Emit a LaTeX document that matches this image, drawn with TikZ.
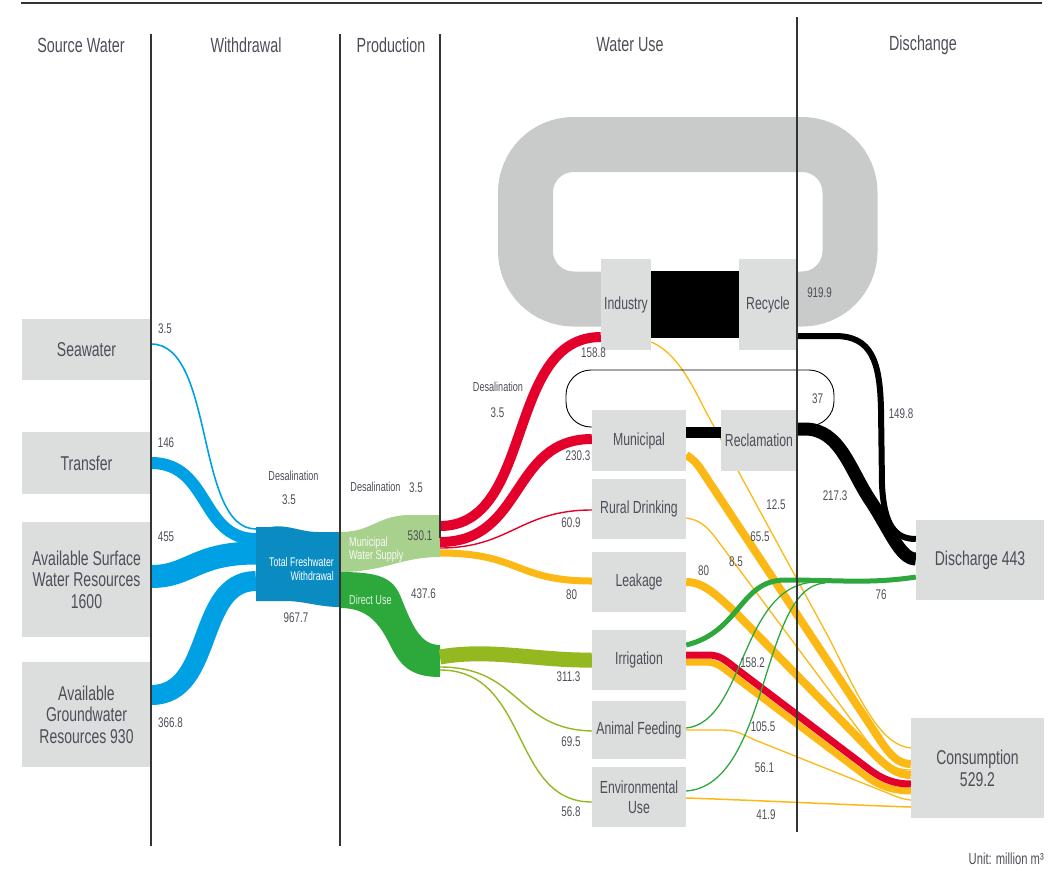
\documentclass[tikz,border=0pt]{standalone}
\usepackage{fontspec}
\setmainfont{Liberation Sans}[FakeStretch=0.7]
\usetikzlibrary{calc}
\definecolor{boxgray}{HTML}{DCDDDD}
\definecolor{loopgray}{HTML}{C9CACA}
\definecolor{txt}{HTML}{4E4E58}
\definecolor{fblue}{HTML}{00A0E4}
\definecolor{tblue}{HTML}{0A8CC3}
\definecolor{lgreen}{HTML}{A9D18E}
\definecolor{dgreen}{HTML}{2DA83B}
\definecolor{olive}{HTML}{93B820}
\definecolor{fred}{HTML}{E3002B}
\definecolor{fyel}{HTML}{FCB814}
\definecolor{fgreen}{HTML}{2EA83C}
\definecolor{rulec}{HTML}{333333}
\newcommand\myfs[2]{\fontsize{#1}{#2}\selectfont}
\pgfdeclarelayer{back}
\pgfdeclarelayer{flows}
\pgfsetlayers{back,flows,main}
\begin{document}
\begin{tikzpicture}[x=1pt,y=-1pt,
  box/.style={fill=boxgray, inner sep=0pt, align=center, text=txt, font=\myfs{17.5}{20}},
  srcbox/.style={box, minimum width=129pt, font=\myfs{20}{21.5}},
  endbox/.style={box, font=\myfs{20}{22}},
  usebox/.style={box, minimum width=94pt},
  hdr/.style={text=txt, font=\myfs{20.5}{22}, inner sep=0pt},
  num/.style={text=txt, font=\myfs{14}{15}, inner sep=0pt},
  small/.style={text=txt, font=\myfs{13}{14}, inner sep=0pt},
  vline/.style={draw=rulec, line width=1.5pt}]
\useasboundingbox (0,0) rectangle (1064,870);

% top rule
\draw[draw=rulec, line width=2.5pt] (21,3) -- (1042,3);

% headers
\node[hdr] (hsrc) at (81,45) {Source Water};
\node[hdr] (hwd) at (246,45) {Withdrawal};
\node[hdr] (hprod) at (391,45) {Production};
\node[hdr] (huse) at (630,45) {Water Use};
\node[hdr] (hdis) at (923,45) {Dischange};

% source boxes
\node[srcbox, minimum height=61pt] (sea) at (86.5,349.5) {Seawater};
\node[srcbox, minimum height=62pt] (transfer) at (86.5,463) {Transfer};
\node[srcbox, minimum height=115pt] (surface) at (86.5,579.5) {Available Surface\\Water Resources\\1600};
\node[srcbox, minimum height=105pt] (ground) at (86.5,714.5) {Available\\Groundwater\\Resources 930};

% water use boxes
\node[box, minimum width=50pt, minimum height=91pt] (industry) at (626,304.5) {Industry};
\node[box, minimum width=58pt, minimum height=91pt] (recycle) at (768,304.5) {Recycle};
\node[usebox, minimum height=61pt] (municipal) at (639,440.5) {Municipal};
\node[box, minimum width=76pt, minimum height=61pt] (reclamation) at (759,440.5) {Reclamation};
\node[usebox, minimum height=60pt] (rural) at (639,509) {Rural Drinking};
\node[usebox, minimum height=60pt] (leakage) at (639,582) {Leakage};
\node[usebox, minimum height=60pt] (irrigation) at (639,660) {Irrigation};
\node[usebox, minimum height=58pt] (animal) at (639,730) {Animal Feeding};
\node[usebox, minimum height=60pt] (env) at (639,797) {Environmental\\Use};
\node[endbox, minimum width=128pt, minimum height=80pt] (discharge) at (980,560) {Discharge 443};
\node[endbox, minimum width=133pt, minimum height=100pt] (consumption) at (977.5,768) {Consumption\\529.2};

% production connection points
\coordinate (tfwA) at (256,529);
\coordinate (tfwB) at (256,539);
\coordinate (tfwC) at (256,553);
\coordinate (tfwD) at (256,581);
\coordinate (mwsA) at (440,526);
\coordinate (mwsB) at (440,542);
\coordinate (mwsC) at (440,548);
\coordinate (mwsD) at (440,553);
\coordinate (duA) at (440,657);
\coordinate (duB) at (440,667);
\coordinate (duC) at (440,670);
\coordinate (gm1) at (815,582);
\coordinate (gm2) at (825,583);

\begin{pgfonlayer}{back}
  \draw[loopgray, line width=55pt, rounded corners=48pt] (525.5,144.5) rectangle (850,299);
\end{pgfonlayer}

\begin{pgfonlayer}{flows}
  % blue source flows
  \draw[fblue, line width=1.6pt] ([yshift=5.5pt]sea.east) .. controls (215,344) and (195,529) .. (tfwA);
  \draw[fblue, line width=12pt] (transfer.east) .. controls (210,463) and (200,539) .. (tfwB);
  \draw[fblue, line width=23pt] ([yshift=3pt]surface.east) .. controls (190,576.5) and (195,553) .. (tfwC);
  \draw[fblue, line width=20pt] ([yshift=19.5pt]ground.east) .. controls (215,695) and (195,581) .. (tfwD);
  % total freshwater withdrawal
  \fill[tblue] (256,527) -- (270,527) .. controls (288,524) and (300,532) .. (318,532) -- (340,532)
     -- (340,607) .. controls (318,607) and (305,601) .. (285,601) -- (256,601) -- cycle;
  % municipal water supply
  \fill[lgreen] (340,532) .. controls (372,532) and (378,515) .. (410,515) -- (440,515)
     -- (440,557) .. controls (400,557) and (385,572) .. (340,572) -- cycle;
  % direct use
  \fill[dgreen] (340,572) .. controls (380,572) and (392,578) .. (400,595)
     .. controls (412,625) and (420,645) .. (440,645) -- (440,677)
     .. controls (410,677) and (400,665) .. (390,645) .. controls (378,620) and (365,608) .. (340,608) -- cycle;
  % direct use to irrigation, animal feeding, environmental use
  \draw[olive, line width=15pt] (duA) .. controls (490,648) and (540,661) .. (irrigation.west);
  \draw[olive, line width=1.4pt] (duB) .. controls (520,667) and (515,729) .. ([yshift=-1pt]animal.west);
  \draw[olive, line width=1.4pt] (duC) .. controls (530,670) and (510,802) .. ([yshift=-5pt]env.west);
  % municipal supply flows
  \draw[fyel, line width=7pt] (mwsD) .. controls (520,553) and (515,581) .. ([yshift=1pt]leakage.west);
  \draw[fred, line width=1.4pt] (mwsC) .. controls (510,548) and (520,510) .. ([yshift=-1pt]rural.west);
  \draw[fred, line width=10pt] (mwsB) .. controls (525,542) and (510,439) .. ([yshift=1.5pt]municipal.west);
  \draw[fred, line width=10pt] (mwsA) .. controls (535,526) and (505,337) .. ([yshift=-32.5pt]industry.west);
  % to consumption (yellow / red)
  \draw[fyel, line width=1.3pt] ([yshift=-37.5pt]industry.east) .. controls (675,352) and (690,380) .. (705,410)
     -- (830,640) .. controls (860,700) and (880,745) .. ([yshift=20pt]consumption.west);
  \draw[fyel, line width=8pt] ([yshift=-14.5pt]municipal.east) .. controls (694,460) and (697,464) .. (700,468)
     -- (880,740) .. controls (890,755) and (898,764) .. ([yshift=4pt]consumption.west);
  \draw[fyel, line width=1.3pt] ([yshift=-9pt]rural.east) .. controls (700,520) and (706,526) .. (715,537)
     -- (870,745) .. controls (885,765) and (895,770) .. ([yshift=-2pt]consumption.west);
  \draw[fyel, line width=8pt] (leakage.east) .. controls (705,582) and (718,597) .. (735,612)
     -- (875,755) .. controls (888,768) and (898,775) .. ([yshift=-7pt]consumption.west);
  \draw[fyel, line width=7pt] ([yshift=-2pt]irrigation.east) -- (705,662) .. controls (717,662) and (722,667) .. (735,677)
     -- (867,777) .. controls (882,788) and (897,791) .. ([yshift=-23pt]consumption.west);
  \draw[fred, line width=7pt] ([yshift=5pt]irrigation.east) -- (708,655) .. controls (720,655) and (725,660) .. (738,670)
     -- (870,770) .. controls (885,781) and (897,784) .. ([yshift=-16pt]consumption.west);
  \draw[fyel, line width=1.3pt] (animal.east) -- (722,730) .. controls (735,730) and (740,733) .. (755,740)
     -- (880,790) .. controls (893,795) and (900,799) .. ([yshift=-32pt]consumption.west);
  \draw[fyel, line width=1.5pt] ([yshift=-1pt]env.east) .. controls (750,800) and (850,805) .. ([yshift=-39pt]consumption.west);
  % industry -> recycle, municipal -> reclamation
  \fill[black] ([yshift=-12.5pt]industry.north east) rectangle ([yshift=12pt]recycle.south west);
  \draw[black, line width=11pt] ([yshift=8pt]municipal.east) -- ([yshift=8pt]reclamation.west);
  % reclamation loop 37
  \draw[black, line width=0.9pt, rounded corners=25pt] ([yshift=13.5pt]municipal.west) -- (566,427) -- (566,370)
     -- (834,370) -- (834,426) -- ([yshift=14.5pt]reclamation.east);
  % to discharge (black)
  \draw[black, line width=6pt] ([yshift=-31.5pt]recycle.east) -- (835,336) .. controls (872,336) and (880,362) .. (881,410)
     -- (882,485) .. controls (884,525) and (895,539) .. ([yshift=21pt]discharge.west);
  \draw[black, line width=13pt] ([yshift=11.5pt]reclamation.east) -- (805,429) .. controls (840,429) and (850,470) .. (870,500)
     .. controls (890,530) and (900,559) .. ([yshift=1pt]discharge.west);
  % to discharge (green)
  \draw[fgreen, line width=5pt] ([yshift=15pt]irrigation.east) .. controls (740,632) and (740,580) .. (785,580)
     .. controls (840,580) and (870,584) .. ([yshift=-17pt]discharge.west);
  \draw[fgreen, line width=1.3pt] ([yshift=2pt]animal.east) .. controls (745,722) and (740,585) .. (gm1);
  \draw[fgreen, line width=1.3pt] ([yshift=6pt]env.east) .. controls (770,785) and (760,586) .. (gm2);
\end{pgfonlayer}

% texts on production shapes
\node[text=white, align=right, anchor=east, font=\myfs{12.5}{14}, inner sep=0pt] (tfw) at (334,569) {Total Freshwater\\Withdrawal};
\node[text=white!90!lgreen, align=left, anchor=west, font=\myfs{13}{13.5}, inner sep=0pt] (mws) at (349,549.5) {Municipal\\Water Supply};
\node[text=white!85!dgreen, anchor=west, font=\myfs{13}{14}, inner sep=0pt] (du) at (349,600) {Direct Use};

% value labels
\node[num] (l1) at (165,329) {3.5};
\node[num] (l2) at (166,443) {146};
\node[num] (l3) at (166,537) {455};
\node[num] (l4) at (170.5,723) {366.8};
\node[small] (l5) at (293.5,476) {Desalination};
\node[num] (l6) at (289,500) {3.5};
\node[num] (l7) at (296,618) {967.7};
\node[small] (l8) at (375.5,487) {Desalination};
\node[num] (l9) at (416,488) {3.5};
\node[num] (l10) at (420,536) {530.1};
\node[num] (l11) at (423.5,594) {437.6};
\node[small] (l12) at (498,387) {Desalination};
\node[num] (l13) at (497.5,413) {3.5};
\node[num] (l14) at (593.5,353) {158.8};
\node[num] (l15) at (578,456) {230.3};
\node[num] (l16) at (571,523) {60.9};
\node[num] (l17) at (571.5,595) {80};
\node[num] (l18) at (568.5,677) {311.3};
\node[num] (l19) at (571,742) {69.5};
\node[num] (l20) at (571,812) {56.8};
\node[num] (l21) at (819.5,293) {919.9};
\node[num] (l22) at (817.5,399) {37};
\node[num] (l23) at (901,414) {149.8};
\node[num] (l24) at (835,496) {217.3};
\node[num] (l25) at (776,505) {12.5};
\node[num] (l26) at (760,537) {65.5};
\node[num] (l27) at (736,562) {8.5};
\node[num] (l28) at (703.5,571) {80};
\node[num] (l29) at (881,595) {76};
\node[num] (l30) at (752.5,663) {158.2};
\node[num] (l31) at (763,727) {105.5};
\node[num] (l32) at (764.5,768) {56.1};
\node[num] (l33) at (766,815) {41.9};
\node[text=txt, anchor=east, font=\myfs{16}{17}, inner sep=0pt] (unit) at (1044,859) {Unit: million m³};

% column rules
\draw[vline] (151,34) -- (151,846);
\draw[vline] (340,34) -- (340,846);
\draw[vline] (440,34) -- (440,538);
\draw[vline] (797,17) -- (797,832);
\end{tikzpicture}
\end{document}
